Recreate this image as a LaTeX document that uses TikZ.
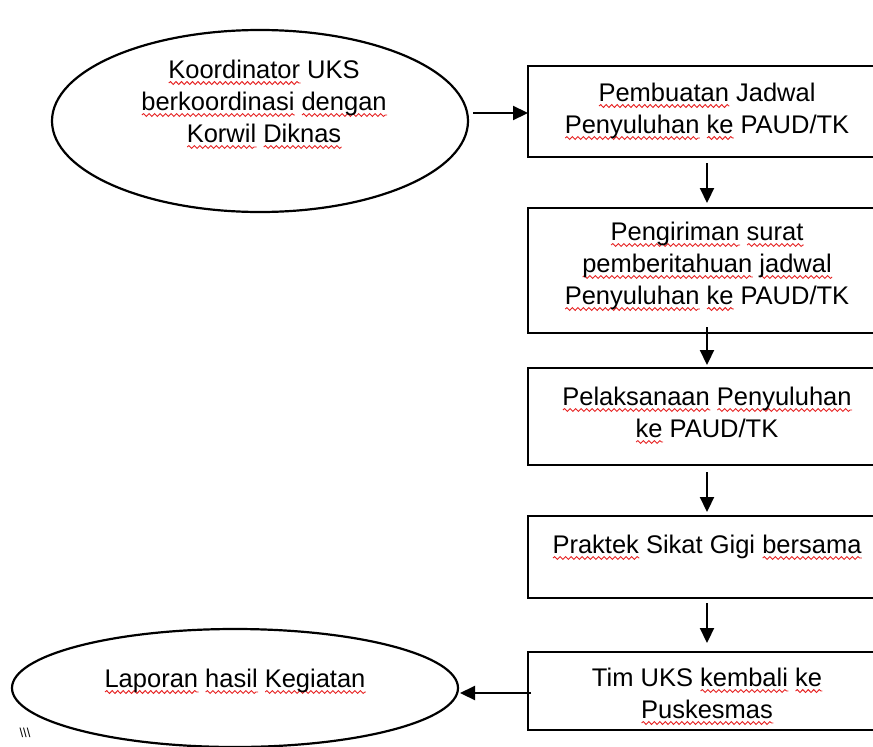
\documentclass[tikz,border=0pt]{standalone}
\usepackage{fontspec}
\setmainfont{Liberation Sans}
\usetikzlibrary{arrows.meta,shapes.geometric,calc,decorations.pathmorphing}
\definecolor{spellred}{RGB}{230,35,35}
\newsavebox\sqbox
\newcommand\sq[1]{\sbox\sqbox{#1}\leavevmode\rlap{\tikz[baseline=0pt]\draw[spellred, line width=0.9pt, decorate, decoration={snake,amplitude=1.4pt,segment length=5.5pt}] (0pt,-5pt) -- (\wd\sqbox,-5pt);}\usebox\sqbox}
\tikzset{
  every node/.style={inner sep=0pt, outer sep=0pt},
  proc/.style={draw, line width=2.2pt, rectangle, minimum width=358pt},
  oval/.style={draw, line width=2.2pt, ellipse},
  txt/.style={align=center, font=\fontsize{25.5}{32}\selectfont, anchor=base},
  arr/.style={line width=2.2pt, -{Triangle[length=15pt,width=14pt]}},
}
\begin{document}
\begin{tikzpicture}[x=1pt,y=-1pt]
\useasboundingbox (0,0) rectangle (873,747);
% shapes
\node[oval, minimum width=416pt, minimum height=182pt] (e1) at (260,121) {};
\node[proc, minimum height=91pt] (b1) at (707,111.5) {};
\node[proc, minimum height=125pt] (b2) at (707,270.5) {};
\node[proc, minimum height=97pt] (b3) at (707,416.5) {};
\node[proc, minimum height=82pt] (b4) at (707,557) {};
\node[proc, minimum height=78pt] (b5) at (707,691) {};
\node[oval, minimum width=446pt, minimum height=118pt] (e2) at (235,688) {};
% texts (anchor = baseline of the last line)
\node[txt] (te1) at (264,142) {\sq{Koordinator} UKS\\\sq{berkoordinasi} \sq{dengan}\\\sq{Korwil} \sq{Diknas}};
\node[txt] (t1) at (707,133) {\sq{Pembuatan} Jadwal\\\sq{Penyuluhan} \sq{ke} PAUD/TK};
\node[txt] (t2) at (707,304) {\sq{Pengiriman} \sq{surat}\\\sq{pemberitahuan} \sq{jadwal}\\\sq{Penyuluhan} \sq{ke} PAUD/TK};
\node[txt] (t3) at (707,437) {\sq{Pelaksanaan} \sq{Penyuluhan}\\\sq{ke} PAUD/TK};
\node[txt] (t4) at (707,553) {\sq{Praktek} Sikat Gigi \sq{bersama}};
\node[txt] (t5) at (707,718) {Tim UKS \sq{kembali} \sq{ke}\\\sq{Puskesmas}};
\node[txt] (te2) at (235,687) {\sq{Laporan} \sq{hasil} \sq{Kegiatan}};
\node[font=\fontsize{13}{13}\selectfont, anchor=base] (mk) at (25,737) {\textbackslash\textbackslash\textbackslash};
% connectors
\draw[arr] ([xshift=5pt,yshift=8pt]e1.east) -- ([yshift=8pt]e1.east -| b1.west);
\draw[arr, shorten <=6pt, shorten >=5pt] (b1.south) -- (b2.north);
\draw[arr, shorten <=-6pt, shorten >=3pt] (b2.south) -- (b3.north);
\draw[arr, shorten <=7pt, shorten >=4pt] (b3.south) -- (b4.north);
\draw[arr, shorten <=5pt, shorten >=9pt] (b4.south) -- (b5.north);
\draw[arr, shorten >=2pt] ([xshift=3pt,yshift=-2pt]b5.west) -- ([yshift=-2pt]b5.west -| e2.east);
\end{tikzpicture}
\end{document}
